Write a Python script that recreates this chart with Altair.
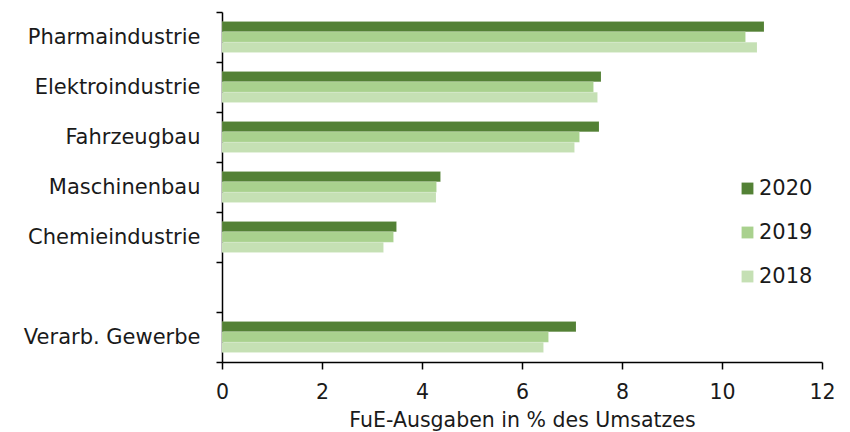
import altair as alt
import pandas as pd

categories = ["Pharmaindustrie", "Elektroindustrie", "Fahrzeugbau", "Maschinenbau",
              "Chemieindustrie", " ", "Verarb. Gewerbe"]
data_categories = ["Pharmaindustrie", "Elektroindustrie", "Fahrzeugbau", "Maschinenbau",
                   "Chemieindustrie", "Verarb. Gewerbe"]
years = ["2020", "2019", "2018"]
v2020 = [10.84, 7.58, 7.54, 4.37, 3.49, 7.08]
v2019 = [10.47, 7.43, 7.15, 4.29, 3.43, 6.53]
v2018 = [10.70, 7.51, 7.05, 4.28, 3.23, 6.43]
colors = ["#538135", "#A9D18E", "#C5E0B4"]

rows = []
for y, vals in zip(years, [v2020, v2019, v2018]):
    for c, v in zip(data_categories, vals):
        rows.append({"Branche": c, "Jahr": y, "Wert": v})
df = pd.DataFrame(rows)

FONT = "DejaVu Sans"
FS = 20.5

bars = alt.Chart(df).mark_bar(stroke="#ffffff", strokeOpacity=0.25, strokeWidth=0.5).encode(
    y=alt.Y("Branche:N", sort=categories,
            scale=alt.Scale(domain=categories, paddingInner=0, paddingOuter=0),
            axis=alt.Axis(title=None, tickBand="extent", tickSize=6, tickColor="black",
                          tickWidth=1.5, domainColor="black", domainWidth=1.5,
                          labelFont=FONT, labelFontSize=21, labelColor="#1a1a1a",
                          labelPadding=16)),
    yOffset=alt.YOffset("Jahr:N", sort=years,
                        scale=alt.Scale(domain=years, paddingInner=0, paddingOuter=0.92)),
    x=alt.X("Wert:Q", scale=alt.Scale(domain=[0, 12], nice=False),
            axis=alt.Axis(title="FuE-Ausgaben in % des Umsatzes", values=[0, 2, 4, 6, 8, 10, 12],
                          grid=False, tickSize=7, tickColor="black", tickWidth=1.5,
                          domainColor="black", domainWidth=1.5, labelFlush=False,
                          labelFont=FONT, labelFontSize=FS, labelColor="#1a1a1a",
                          labelPadding=13, titleFont=FONT, titleFontSize=FS,
                          titleFontWeight="normal", titleColor="#1a1a1a", titlePadding=8)),
    color=alt.Color("Jahr:N", sort=years,
                    scale=alt.Scale(domain=years, range=colors),
                    legend=alt.Legend(title=None, orient="none", legendX=515, legendY=166,
                                      symbolType="square", symbolSize=140,
                                      symbolStrokeWidth=0, labelFont=FONT,
                                      labelFontSize=21, labelColor="#1a1a1a",
                                      rowPadding=22, labelOffset=1)),
)

chart = bars.properties(
    width=600, height=350,
    padding={"left": 214, "top": 4, "right": 20, "bottom": 80},
    autosize=alt.AutoSizeParams(type="none"),
).configure_view(stroke=None)

chart.save("out.html", embed_options={"renderer": "svg", "actions": False})
